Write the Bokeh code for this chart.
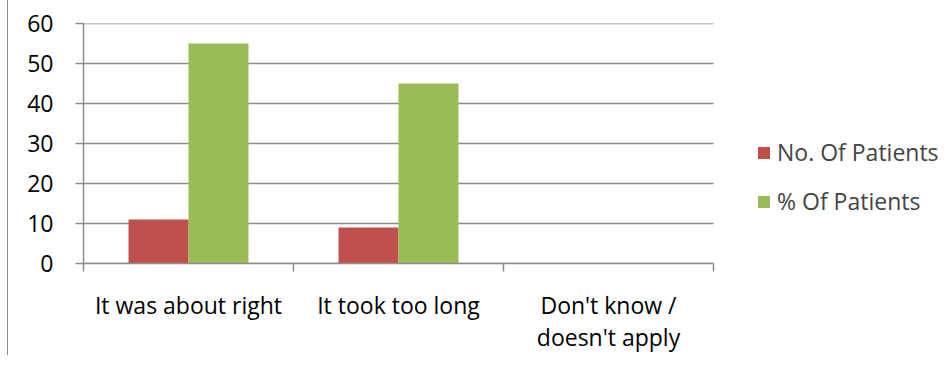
from bokeh.plotting import figure
from bokeh.models import ColumnDataSource, Range1d, FixedTicker, Legend, LegendItem
from bokeh.embed import file_html
from bokeh.resources import INLINE

categories = ["It was about right", "It took too long", "Don't know /\ndoesn't apply"]
series_names = ["No. Of Patients", "% Of Patients"]
no_patients = [11, 9, 0]
pct_patients = [55, 45, 0]
y_ticks = [0, 10, 20, 30, 40, 50, 60]

RED = "#C0504D"
GREEN = "#9BBB59"
GRID = "#8C8C8C"
FONT = "Open Sans"
FS = "23px"

n_cat = len(categories)
px_per_cat = 210
fig_w, fig_h = 936, 355
b_left, b_right, b_top, b_bottom = 75, 0, 23, 85
frame_w = fig_w - b_left - b_right
x_end = frame_w / px_per_cat

centers = [i + 0.5 for i in range(n_cat)]
bar_w = 60 / px_per_cat

p = figure(width=fig_w, height=fig_h, output_backend="svg", toolbar_location=None,
           x_range=Range1d(0, x_end), y_range=Range1d(0, 60),
           min_border_left=b_left, min_border_right=b_right,
           min_border_top=b_top, min_border_bottom=b_bottom,
           styles={"margin-left": "7px", "border-left": "1px solid #8C8C8C"})
p.outline_line_color = None
p.background_fill_color = "white"
p.border_fill_color = "white"
p.xgrid.grid_line_color = None
p.ygrid.grid_line_color = None

# horizontal gridlines over the category area only
p.segment(x0=[0] * len(y_ticks), x1=[n_cat] * len(y_ticks), y0=y_ticks, y1=y_ticks,
          line_color=GRID, line_width=1.5)

src = ColumnDataSource(dict(
    xr=[c - bar_w / 2 for c in centers],
    xg=[c + bar_w / 2 for c in centers],
    n=no_patients, pct=pct_patients))

r1 = p.vbar(x="xr", top="n", width=bar_w, source=src, fill_color=RED, line_color=None)
r2 = p.vbar(x="xg", top="pct", width=bar_w, source=src, fill_color=GREEN, line_color=None)

# y axis
p.yaxis.ticker = FixedTicker(ticks=y_ticks)
p.yaxis.axis_line_color = GRID
p.yaxis.axis_line_width = 1.5
p.yaxis.major_tick_line_color = GRID
p.yaxis.major_tick_line_width = 1.5
p.yaxis.major_tick_out = 8
p.yaxis.major_tick_in = 0
p.yaxis.minor_tick_line_color = None
p.yaxis.major_label_standoff = 22
p.yaxis.major_label_text_font = FONT
p.yaxis.major_label_text_font_size = FS
p.yaxis.major_label_text_color = "black"

# x axis
p.xaxis.bounds = (0, n_cat)
p.xaxis.ticker = FixedTicker(ticks=centers, minor_ticks=list(range(n_cat + 1)))
p.xaxis.major_label_overrides = {c: lab for c, lab in zip(centers, categories)}
p.xaxis.axis_line_color = GRID
p.xaxis.axis_line_width = 1.5
p.xaxis.major_tick_line_color = None
p.xaxis.major_tick_out = 0
p.xaxis.major_tick_in = 0
p.xaxis.minor_tick_line_color = GRID
p.xaxis.minor_tick_line_width = 1.5
p.xaxis.minor_tick_out = 8
p.xaxis.minor_tick_in = 0
p.xaxis.major_label_standoff = 17
p.xaxis.major_label_text_font = FONT
p.xaxis.major_label_text_font_size = FS
p.xaxis.major_label_text_line_height = 1.0
p.xaxis.major_label_text_color = "black"

legend = Legend(items=[LegendItem(label=series_names[0], renderers=[r1]),
                       LegendItem(label=series_names[1], renderers=[r2])],
                location=(673, 46), orientation="vertical")
legend.border_line_color = None
legend.background_fill_alpha = 0
legend.padding = 0
legend.margin = 0
legend.label_text_font = FONT
legend.label_text_font_size = FS
legend.glyph_width = 15
legend.glyph_height = 15
legend.label_height = 31
legend.spacing = 17
legend.label_standoff = 6
p.add_layout(legend, "center")

open("out.html", "w").write(file_html(p, INLINE))
